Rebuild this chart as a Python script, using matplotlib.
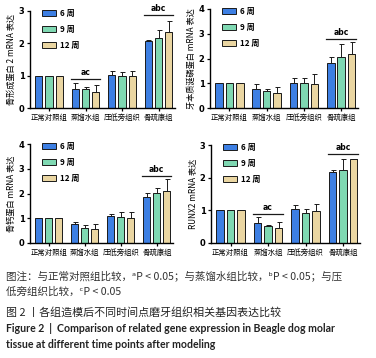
import numpy as np
import matplotlib
matplotlib.use("Agg")
import matplotlib.pyplot as plt

plt.rcParams['font.family'] = ['Noto Sans CJK SC', 'DejaVu Sans']

# --- Data ---
groups = ["正常对照组", "蒸馏水组", "压低旁组织", "骨疏康组"]
weeks = ["6 周", "9 周", "12 周"]
colors = ["#3d7fe3", "#7fd8b2", "#ead6a2"]

bmp2_mean = [[1.0, 0.58, 1.03, 2.08], [1.0, 0.60, 0.98, 2.17], [1.0, 0.48, 0.99, 2.35]]
bmp2_err = [[0, 0.20, 0.10, 0.01], [0, 0.04, 0.13, 0.23], [0, 0.22, 0.16, 0.33]]

dspp_mean = [[1.0, 0.75, 1.03, 1.80], [1.0, 0.70, 1.00, 2.07], [1.0, 0.60, 0.97, 2.18]]
dspp_err = [[0, 0.20, 0.19, 0.28], [0, 0.06, 0.22, 0.50], [0, 0.24, 0.42, 0.48]]

ocn_mean = [[1.0, 0.77, 1.08, 1.85], [1.0, 0.62, 1.05, 2.03], [1.0, 0.58, 1.00, 2.12]]
ocn_err = [[0, 0.09, 0.08, 0.18], [0, 0.10, 0.20, 0.20], [0, 0.20, 0.27, 0.45]]

runx2_mean = [[1.0, 0.60, 1.03, 2.17], [1.0, 0.53, 0.93, 2.23], [1.0, 0.46, 0.98, 2.58]]
runx2_err = [[0, 0.20, 0.13, 0.08], [0, 0.03, 0.10, 0.33], [0, 0.18, 0.22, 0.0]]

panels = [
    # ylabel, mean, err, ymax, significance marks (group, y, text)
    ("骨形成蛋白 2 mRNA 表达", bmp2_mean, bmp2_err, 3, [(1, 0.90, "ac"), (3, 2.88, "abc")]),
    ("牙本质涎磷蛋白 mRNA 表达", dspp_mean, dspp_err, 4, [(3, 2.80, "abc")]),
    ("骨钙蛋白 mRNA 表达", ocn_mean, ocn_err, 4, [(3, 2.70, "abc")]),
    ("RUNX2 mRNA 表达", runx2_mean, runx2_err, 3, [(1, 0.90, "ac"), (3, 2.73, "abc")]),
]

W, H = 376, 358
fig = plt.figure(figsize=(W / 100, H / 100), dpi=100)

# pixel boxes: left, top, right, bottom
boxes = [(30, 11, 175, 108), (210, 9, 358, 108), (30, 144, 173, 243), (211, 145, 360, 243)]

x = np.arange(len(groups))
bw = 0.2
offs = [-0.28, 0, 0.28]

for (ylab, mean, err, ymax, sig), (l, t, r, b) in zip(panels, boxes):
    ax = fig.add_axes([l / W, 1 - b / H, (r - l) / W, (b - t) / H])
    for i in range(3):
        ax.bar(x + offs[i], mean[i], bw, color=colors[i], edgecolor="#1a1a1a",
               linewidth=0.7, label=weeks[i], zorder=2)
        e = np.array(err[i])
        ax.errorbar(x + offs[i], mean[i], yerr=[np.zeros_like(e), e], fmt="none",
                    ecolor="#1a1a1a", elinewidth=0.7, capsize=1.8, capthick=0.7, zorder=1)
    for g, yy, txt in sig:
        ax.plot([g - 0.4, g + 0.4], [yy, yy], color="#1a1a1a", lw=0.9)
        ax.text(g, yy + ymax * 0.02, txt, ha="center", va="bottom", fontsize=5.5,
                fontweight="bold", family="DejaVu Sans")
    ax.set_xlim(-0.52, 3.45)
    ax.set_ylim(0, ymax)
    ax.set_yticks(range(ymax + 1))
    ax.set_xticks(x)
    ax.set_xticklabels(groups, fontsize=5.3)
    for lab in ax.get_yticklabels():
        lab.set_fontsize(6)
        lab.set_fontweight("bold")
        lab.set_family("DejaVu Sans")
    ax.set_ylabel(ylab, fontsize=5.9, labelpad=2)
    ax.tick_params(axis="both", length=2.5, width=0.9, pad=1.5)
    for s in ["top", "right"]:
        ax.spines[s].set_visible(False)
    for s in ["left", "bottom"]:
        ax.spines[s].set_linewidth(1.0)
    leg = ax.legend(loc="upper left", bbox_to_anchor=(0.05, 1.07), frameon=False,
                    fontsize=5.8, handlelength=1.7, handleheight=0.85,
                    labelspacing=0.85, handletextpad=0.5, borderaxespad=0.2)
    for txt in leg.get_texts():
        txt.set_fontweight("bold")

# --- Caption ---
fs = 7.6
fig.text(6 / W, 1 - 276 / H, "图注：与正常对照组比较，ᵃP < 0.05；与蒸馏水组比较，ᵇP < 0.05；与压",
         fontsize=fs, va="center", ha="left", color="#333333")
fig.text(6 / W, 1 - 292 / H, "低旁组织比较，ᶜP < 0.05",
         fontsize=fs, va="center", ha="left", color="#333333")
fig.text(6 / W, 1 - 312 / H, "图 2 丨各组造模后不同时间点磨牙组织相关基因表达比较",
         fontsize=7.9, va="center", ha="left", color="#222222")
fig.text(6 / W, 1 - 328 / H, "Figure 2  |  Comparison of related gene expression in Beagle dog molar",
         fontsize=7.6, va="center", ha="left", fontweight="bold", family="Lato", color="#222222")
fig.text(6 / W, 1 - 344 / H, "tissue at different time points after modeling",
         fontsize=7.6, va="center", ha="left", fontweight="bold", family="Lato", color="#222222")

fig.savefig("out.png", dpi=100)
